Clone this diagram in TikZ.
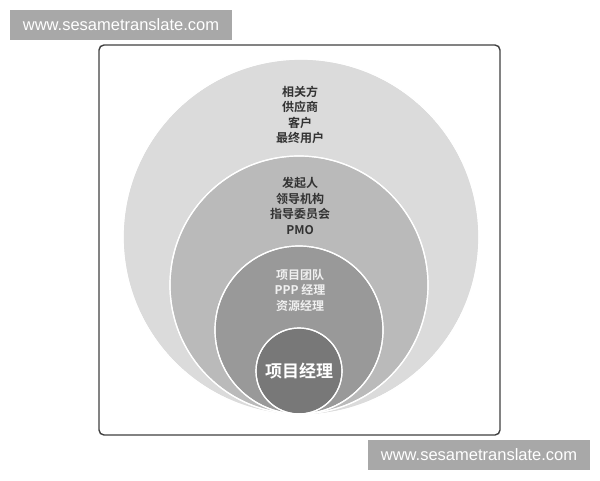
\documentclass[tikz,border=0pt]{standalone}
\usepackage{fontspec}
\setmainfont{Liberation Sans}
\newfontfamily\cjk{Noto Sans CJK SC}[BoldFont={Noto Sans CJK SC Bold}]

\tikzset{
  ring/.style={draw=white, line width=1.2pt},
  ringtext/.style={align=center, font=\cjk\bfseries\fontsize{12}{15.5}\selectfont},
  mark box/.style={fill=black!34, text=white, minimum width=222pt, minimum height=30pt,
    inner sep=0pt, font=\fontsize{16.5}{18}\selectfont}
}

\begin{document}
\begin{tikzpicture}[x=1pt, y=-1pt]
    \useasboundingbox (0,0) rectangle (600,480);

    % frame
    \draw[black!75, line width=1.4pt, rounded corners=5pt, fill=white] (99,45) rectangle (500,435);

    % circles, all touching at the bottom
    \fill[ring, fill=black!14] (301,237) circle (178);
    \fill[ring, fill=black!27] (299,285) circle (129);
    \fill[ring, fill=black!40] (299,330) circle (84);
    \fill[ring, fill=black!53] (299,371) circle (43);
    \draw[ring] (301,237) circle (178);
    \draw[ring] (299,285) circle (129);
    \draw[ring] (299,330) circle (84);
    \draw[ring] (299,371) circle (43);

    % labels
    \node[ringtext, text=black!80] (stake) at (300,115) {相关方\\供应商\\客户\\最终用户};
    \node[ringtext, text=black!80] (sponsor) at (300,206) {发起人\\领导机构\\指导委员会\\PMO};
    \node[ringtext, text=black!6] (team) at (300,290) {项目团队\\PPP 经理\\资源经理};
    \node[font=\cjk\bfseries\fontsize{17}{20}\selectfont, text=white] (pm) at (299,371) {项目经理};

    % watermarks
    \node[mark box] (marktop) at (121,25) {www.sesametranslate.com};
    \node[mark box] (markbot) at (479,455) {www.sesametranslate.com};
\end{tikzpicture}
\end{document}
